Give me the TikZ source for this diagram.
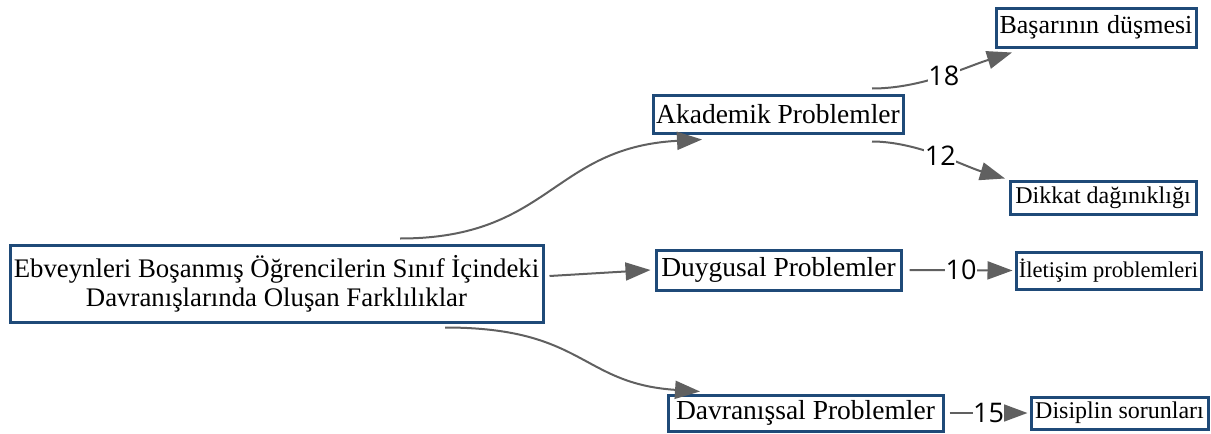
\documentclass[tikz,border=0pt]{standalone}
\usepackage{fontspec}
\setmainfont{Liberation Serif}
\newfontfamily\numfont{Open Sans}
\usetikzlibrary{positioning,arrows.meta,calc}
\definecolor{boxblue}{HTML}{1F4A78}
\definecolor{arrowgray}{HTML}{606060}
\tikzset{
	problem/.style={draw=boxblue, line width=3pt, fill=white, inner sep=0pt, align=center,
		font=\fontsize{27.5}{30}\selectfont},
	effect/.style={problem, font=\fontsize{24}{26}\selectfont},
	flow/.style={draw=arrowgray, line width=2pt, -{Triangle[length=25pt,width=18pt]}},
	count/.style={fill=white, inner sep=0.5pt, font=\numfont\fontsize{27}{27}\selectfont}
}

\begin{document}
\begin{tikzpicture}[x=1pt,y=-1pt]
	\useasboundingbox (0,0) rectangle (1211,434);
	\node[problem, minimum width=533pt, minimum height=77pt, font=\fontsize{26.8}{29}\selectfont] (main) at (276.5,283.5)
		{Ebveynleri Boşanmış Öğrencilerin Sınıf İçindeki\\Davranışlarında Oluşan Farklılıklar};
	\node[problem, minimum width=250pt, minimum height=38pt] (akad) at (778,114) {Akademik Problemler};
	\node[problem, minimum width=245pt, minimum height=40pt] (duygu) at (778.5,270) {Duygusal Problemler};
	\node[problem, minimum width=275pt, minimum height=36pt] (davran) at (805.5,413) {Davranışsal Problemler};
	\node[effect, minimum width=200pt, minimum height=39pt, font=\fontsize{26}{28}\selectfont] (basari) at (1096,27.5) {Başarının\hspace{8pt}düşmesi};
	\node[effect, minimum width=186pt, minimum height=33pt] (dikkat) at (1103,197.5) {Dikkat dağınıklığı};
	\node[effect, minimum width=185pt, minimum height=37pt, font=\fontsize{22.5}{24}\selectfont] (ileti) at (1108.5,270.5) {İletişim problemleri};
	\node[effect, minimum width=177pt, minimum height=32pt] (disiplin) at (1119.5,413) {Disiplin sorunları};

	\draw[flow] ([xshift=123.5pt,yshift=5pt]main.north) .. controls +(150,0) and +(-150,8) .. ([xshift=-76pt,yshift=-5pt]akad.south);
	\draw[flow] ([xshift=5pt,yshift=7.5pt]main.east) -- ([xshift=-4pt]duygu.west);
	\draw[flow] ([xshift=168.5pt,yshift=-4pt]main.south) .. controls +(140,0) and +(-120,-8) .. ([xshift=-105.5pt,yshift=2pt]davran.north);

	\draw[flow] ([xshift=94pt,yshift=5pt]akad.north) .. controls +(50,0) and +(-45,14) .. node[count] {18} ([xshift=-84pt,yshift=-4pt]basari.south);
	\draw[flow] ([xshift=94pt,yshift=-7pt]akad.south) .. controls +(45,0) and +(-40,-12) .. node[count] {12} ([xshift=-98pt,yshift=1pt]dikkat.north);
	\draw[flow] ([xshift=7pt]duygu.east) -- node[count] {10} ([xshift=-2pt]ileti.west);
	\draw[flow] ([xshift=5pt]davran.east) -- node[count] {15} ([xshift=-2pt]disiplin.west);
\end{tikzpicture}
\end{document}
